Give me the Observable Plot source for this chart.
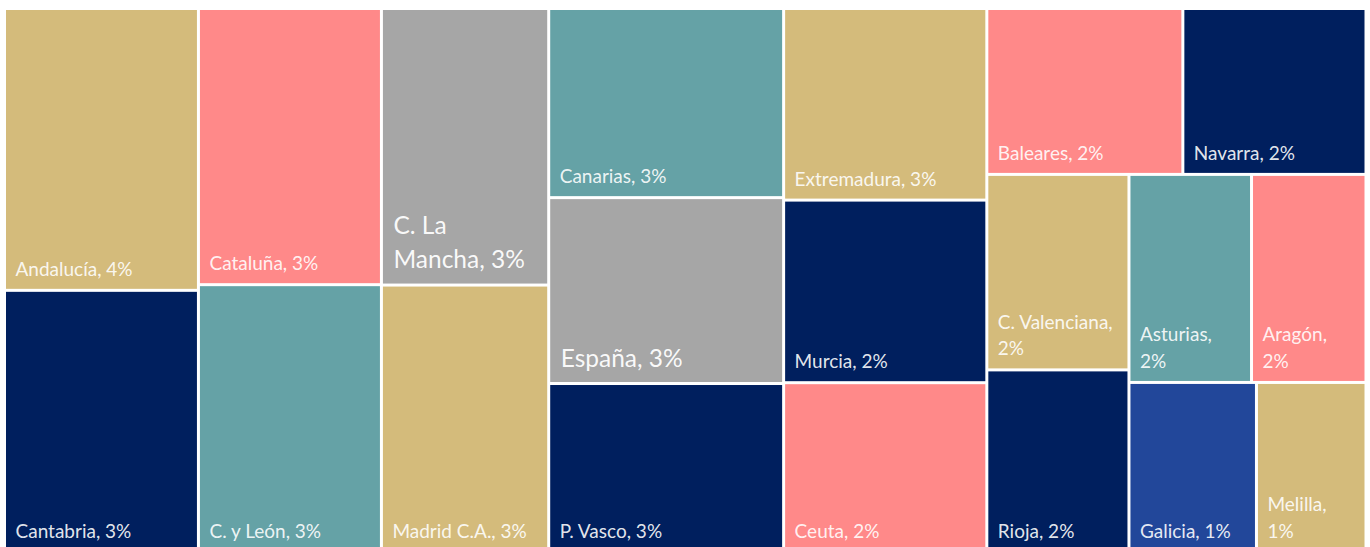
<!DOCTYPE html>
<html>
<head>
<meta charset="utf-8">
<script src="https://cdn.jsdelivr.net/npm/d3@7"></script>
<script src="https://cdn.jsdelivr.net/npm/@observablehq/plot@0.6"></script>
<style>
  html, body { margin: 0; padding: 0; background: #ffffff; overflow: hidden; }
  #chart svg { display: block; }
</style>
</head>
<body>
<div id="chart"></div>
<script>
// ---- data (in %) ----
const regions = ["Andalucía", "Cantabria", "Cataluña", "C. y León", "C. La Mancha", "Madrid C.A.",
  "Canarias", "España", "P. Vasco", "Extremadura", "Murcia", "Ceuta", "Baleares", "Navarra",
  "C. Valenciana", "Rioja", "Asturias", "Aragón", "Galicia", "Melilla"];
const values = [3.58, 3.33, 3.31, 3.21, 3.03, 2.93, 2.91, 2.86, 2.60, 2.55, 2.43, 2.26, 2.13, 1.99,
  1.82, 1.70, 1.67, 1.56, 1.42, 1.22];
const labelLines = ["Andalucía, 4%", "Cantabria, 3%", "Cataluña, 3%", "C. y León, 3%", "C. La\nMancha, 3%",
  "Madrid C.A., 3%", "Canarias, 3%", "España, 3%", "P. Vasco, 3%", "Extremadura, 3%", "Murcia, 2%",
  "Ceuta, 2%", "Baleares, 2%", "Navarra, 2%", "C. Valenciana,\n2%", "Rioja, 2%", "Asturias,\n2%",
  "Aragón,\n2%", "Galicia, 1%", "Melilla,\n1%"];
const highlighted = ["C. La Mancha", "España"];

// ---- styles ----
const palette = {tan: "#d4bb7b", salmon: "#ff8989", gray: "#a6a6a6", teal: "#65a2a6", navy: "#001f5e", blue: "#22479a"};
const colorOf = {
  "Andalucía": "tan", "Cantabria": "navy", "Cataluña": "salmon", "C. y León": "teal", "C. La Mancha": "gray",
  "Madrid C.A.": "tan", "Canarias": "teal", "España": "gray", "P. Vasco": "navy", "Extremadura": "tan",
  "Murcia": "navy", "Ceuta": "salmon", "Baleares": "salmon", "Navarra": "navy", "C. Valenciana": "tan",
  "Rioja": "navy", "Asturias": "teal", "Aragón": "salmon", "Galicia": "blue", "Melilla": "tan"
};

// ---- layout (Excel-like strip grouping, computed from the values) ----
const W = 1358.5, H = 541, X0 = 6, Y0 = 10;
const rowSizes = [2, 2, 2, 3, 3, 2, 2, 2, 2];
function excelTile(parent, x0, y0, x1, y1) {
  const nodes = parent.children;
  let value = parent.value, i0 = 0;
  for (let r = 0; r < rowSizes.length && i0 < nodes.length; r++) {
    const i1 = r === rowSizes.length - 1 ? nodes.length : Math.min(i0 + rowSizes[r], nodes.length);
    const children = nodes.slice(i0, i1);
    const sum = d3.sum(children, d => d.value);
    const row = {value: sum, children};
    const dx = x1 - x0, dy = y1 - y0;
    if (i1 === nodes.length) {
      if (dx >= dy) d3.treemapDice(row, x0, y0, x1, y1); else d3.treemapSlice(row, x0, y0, x1, y1);
    } else if (dx >= dy) {
      const xm = x0 + dx * sum / value;
      d3.treemapSlice(row, x0, y0, xm, y1); x0 = xm;
    } else {
      const ym = y0 + dy * sum / value;
      d3.treemapDice(row, x0, y0, x1, ym); y0 = ym;
    }
    value -= sum; i0 = i1;
  }
}

const table = regions.map((name, i) => ({name, value: values[i], label: labelLines[i],
  color: palette[colorOf[name]], big: highlighted.includes(name)}));
const root = d3.hierarchy({children: table}).sum(d => d.value || 0);
d3.treemap().tile(excelTile).size([W, H]).paddingInner(3).round(false)(root);
const cells = root.leaves().map(l => ({...l.data, x0: l.x0, x1: l.x1, y0: l.y0, y1: l.y1}));

const font = "Lato, 'Open Sans', sans-serif";
const chart = Plot.plot({
  width: 1370,
  height: 547,
  margin: 0,
  x: {domain: [0, W], range: [X0, X0 + W], axis: null},
  y: {domain: [0, H], range: [Y0, Y0 + H], axis: null},
  color: {type: "identity"},
  style: {background: "#ffffff"},
  marks: [
    Plot.rect(cells, {x1: "x0", x2: "x1", y1: "y0", y2: "y1", fill: "color"}),
    Plot.text(cells.filter(d => !d.big), {
      x: "x0", y: "y1", text: "label", textAnchor: "start", lineAnchor: "bottom",
      dx: 9, dy: -13.5, fontSize: 19, lineHeight: 1.4, fill: "#ffffff", fillOpacity: 0.9, fontFamily: font
    }),
    Plot.text(cells.filter(d => d.big), {
      x: "x0", y: "y1", text: "label", textAnchor: "start", lineAnchor: "bottom",
      dx: 10, dy: -16, fontSize: 24.5, lineHeight: 1.4, fill: "#ffffff", fillOpacity: 0.95, fontFamily: font
    })
  ]
});
document.getElementById("chart").appendChild(chart);
</script>
</body>
</html>
